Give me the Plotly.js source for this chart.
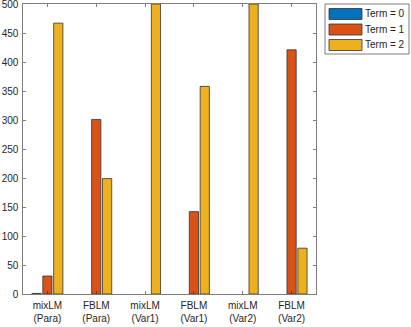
<!DOCTYPE html>
<html>
<head>
<meta charset="utf-8">
<script src="https://cdn.plot.ly/plotly-3.0.1.min.js"></script>
<style>html,body{margin:0;padding:0;background:#fff;}#chart{width:411px;height:327px;}</style>
</head>
<body>
<div id="chart"></div>
<script>
const categories = ["mixLM<br>(Para)", "FBLM<br>(Para)", "mixLM<br>(Var1)", "FBLM<br>(Var1)", "mixLM<br>(Var2)", "FBLM<br>(Var2)"];
const seriesNames = ["Term = 0", "Term = 1", "Term = 2"];
const term0 = [1, 0, 0, 0, 0, 0];
const term1 = [31, 301, 0, 142, 0, 421];
const term2 = [467, 199, 500, 358, 500, 79];
const colors = ["#0072BD", "#D95319", "#EDB120"];
const yTicks = [0, 50, 100, 150, 200, 250, 300, 350, 400, 450, 500];

const xIdx = categories.map((_, i) => i + 1);
const allSeries = [term0, term1, term2];
const traces = allSeries.map((vals, k) => ({
  type: "bar",
  x: xIdx,
  y: vals,
  name: seriesNames[k],
  marker: {color: colors[k], line: {color: "#333333", width: vals.map(v => v === 0 ? 0 : 0.8)}},
  showlegend: false,
  cliponaxis: true
}));

const font = {family: "Liberation Sans, Arial, sans-serif", size: 10, color: "#262626"};
const shapes = [];
const annotations = [];
const legL = 325, legR = 409, legT = 4, legB = 54;
const W = 411, H = 327, ml = 23, mr = 95, mt = 4, mb = 33;
const pw = W - ml - mr, ph = H - mt - mb;
const px = v => (v - ml) / pw;
const py = v => 1 - (v - mt) / ph;
shapes.push({type: "rect", xref: "paper", yref: "paper", x0: px(legL), x1: px(legR), y0: py(legB), y1: py(legT),
  line: {color: "#262626", width: 0.6}, fillcolor: "#ffffff"});
seriesNames.forEach((nm, k) => {
  const yc = 14 + k * 15.5;
  shapes.push({type: "rect", xref: "paper", yref: "paper", x0: px(329), x1: px(362), y0: py(yc + 5.5), y1: py(yc - 5.5),
    line: {color: "#333333", width: 0.8}, fillcolor: colors[k]});
  annotations.push({xref: "paper", yref: "paper", x: px(363), y: py(yc), text: nm, showarrow: false,
    xanchor: "left", yanchor: "middle", font: font});
});

const layout = {
  width: W, height: H,
  margin: {l: ml, r: mr, t: mt, b: mb, pad: 0},
  paper_bgcolor: "#ffffff", plot_bgcolor: "#ffffff",
  barmode: "group", bargap: 0.333, bargroupgap: 0.15,
  showlegend: false,
  font: font,
  xaxis: {
    range: [0.5, 6.5], tickvals: xIdx, ticktext: categories,
    ticks: "inside", ticklen: 3, tickcolor: "#262626", tickwidth: 0.6,
    showline: true, linecolor: "#262626", linewidth: 0.6, mirror: "ticks",
    showgrid: false, zeroline: false, tickfont: font, fixedrange: true,
    ticklabelstandoff: 2, ticklabeloverflow: "allow"
  },
  yaxis: {
    range: [0, 500], tickvals: yTicks, ticktext: yTicks.map(String),
    ticks: "inside", ticklen: 3, tickcolor: "#262626", tickwidth: 0.6,
    showline: true, linecolor: "#262626", linewidth: 0.6, mirror: "ticks",
    showgrid: false, zeroline: false, tickfont: font, fixedrange: true,
    ticklabelstandoff: 2, ticklabeloverflow: "allow"
  },
  shapes: shapes,
  annotations: annotations
};
Plotly.newPlot("chart", traces, layout, {staticPlot: true, displayModeBar: false}).then(gd => {
  // ensure the corner "0" tick label is visible
  const svg = gd.querySelector(".main-svg:last-of-type") || gd.querySelector(".main-svg");
  const labels = gd.querySelectorAll(".ytick text");
  let found = false;
  labels.forEach(t => {
    if (t.textContent === "0") {
      found = true;
      t.style.display = "";
      t.style.opacity = 1;
      t.removeAttribute("display");
    }
  });
  if (!found) {
    Plotly.relayout(gd, {annotations: annotations.concat([{
      xref: "paper", yref: "paper", x: 0, y: 0, xshift: -2, text: String(yTicks[0]),
      showarrow: false, xanchor: "right", yanchor: "middle", font: font
    }])});
  }
});
</script>
</body>
</html>
